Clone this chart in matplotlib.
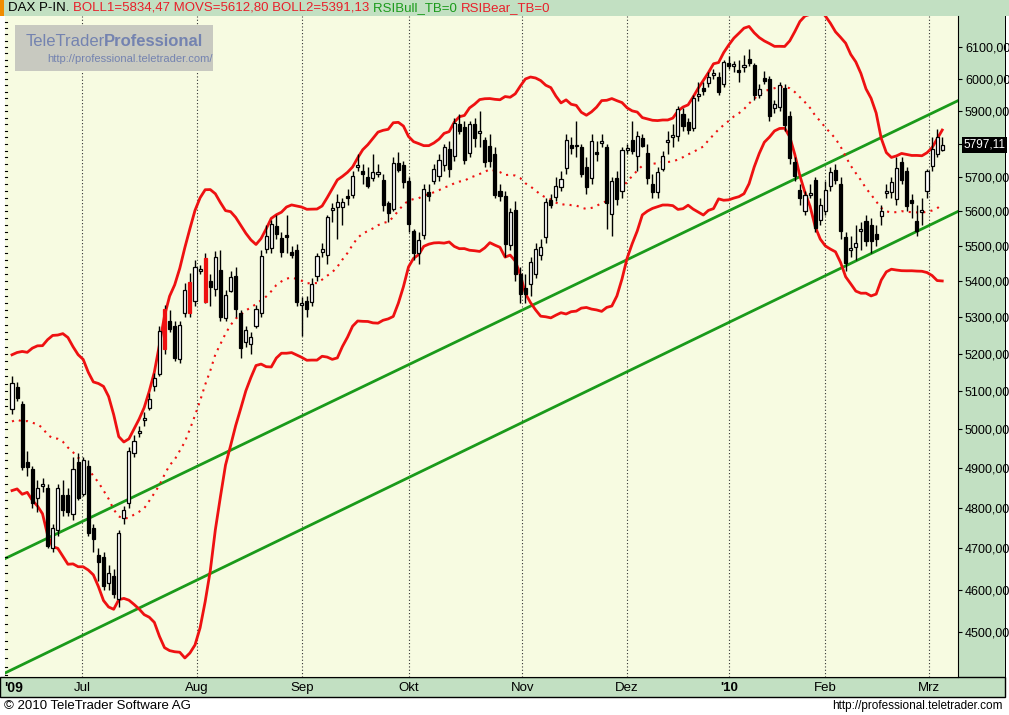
import numpy as np
import matplotlib
matplotlib.use("Agg")
import matplotlib.pyplot as plt
from matplotlib.patches import Rectangle
import matplotlib.ticker as mt

# ---------------- data ----------------
prior_closes = [4980, 5010, 4880, 4900, 4930, 5050, 5070, 4920, 4880, 4950,
                5090, 5140, 5110, 5050, 5160, 5100, 4990, 5020, 5060]
opens = [5054,5112,5067,4915,4899,4826,4856,4851,4700,4746,4833,4833,4786,4915,4836,4907,4751,4683,4678,4615,
         4634,4579,4774,4813,4938,4990,5024,5057,5115,5146,5213,5291,5275,5186,5311,5311,5346,5428,5343,5401,
         5379,5431,5297,5373,5415,5311,5232,5226,5277,5311,5492,5495,5558,5524,5532,5484,5490,5335,5346,5343,
         5415,5484,5476,5603,5612,5612,5646,5649,5731,5719,5702,5699,5711,5693,5624,5606,5743,5737,5690,5544,
         5481,5532,5658,5690,5705,5737,5784,5764,5859,5850,5773,5862,5832,5811,5793,5770,5661,5646,5504,5603,
         5420,5382,5393,5420,5476,5526,5632,5643,5673,5728,5796,5793,5790,5731,5699,5776,5802,5790,5592,5699,
         5661,5781,5811,5764,5817,5773,5681,5658,5725,5805,5820,5823,5890,5868,5847,5947,5972,5987,6012,6006,
         5984,6049,6040,6028,6037,6062,6043,5950,6003,6000,5908,5914,5972,5884,5746,5664,5600,5649,5693,5575,
         5600,5676,5722,5679,5526,5490,5498,5544,5572,5560,5535,5586,5655,5658,5635,5746,5719,5632,5572,5598,
         5661,5734,5770,5781]
closes = [5123,5083,4904,4904,4813,4851,4861,4707,4749,4851,4794,4791,4899,4826,4920,4737,4724,4666,4610,4641,
          4591,4737,4796,4943,4971,4995,5030,5080,5136,5262,5322,5267,5189,5280,5376,5398,5440,5434,5465,5384,
          5470,5300,5362,5412,5324,5216,5264,5245,5324,5473,5529,5563,5535,5484,5527,5476,5343,5340,5322,5393,
          5473,5492,5583,5609,5629,5629,5638,5705,5737,5710,5676,5716,5716,5618,5595,5743,5722,5687,5563,5481,
          5518,5667,5646,5725,5752,5790,5725,5865,5838,5752,5859,5817,5838,5746,5749,5649,5646,5507,5598,5420,
          5365,5365,5456,5492,5498,5629,5620,5676,5696,5811,5787,5798,5710,5673,5808,5770,5808,5626,5690,5635,
          5781,5787,5778,5823,5793,5699,5658,5716,5764,5811,5826,5905,5853,5841,5941,5953,5963,6006,6018,5960,
          6053,6040,6046,6022,6043,6049,5950,5969,5994,5884,5923,5981,5856,5758,5705,5638,5649,5655,5552,5618,
          5664,5716,5693,5544,5451,5495,5510,5549,5515,5515,5521,5600,5661,5687,5728,5693,5615,5626,5544,5603,
          5719,5784,5820,5797.11]
highs = [5140,5125,5075,4945,4905,4870,4875,4860,4760,4860,4870,4850,4930,4940,4930,4920,4760,4700,4690,4660,
         4650,4745,4805,4955,4985,5010,5045,5095,5150,5275,5335,5320,5290,5290,5395,5425,5460,5445,5480,5420,
         5485,5490,5375,5430,5440,5320,5275,5260,5335,5490,5560,5575,5590,5540,5590,5500,5505,5355,5360,5410,
         5480,5510,5590,5625,5650,5640,5665,5720,5770,5740,5730,5770,5740,5710,5630,5760,5775,5750,5700,5550,
         5540,5680,5680,5740,5770,5800,5810,5880,5890,5870,5870,5880,5900,5820,5830,5790,5680,5660,5610,5630,
         5440,5420,5470,5510,5520,5640,5650,5700,5720,5830,5820,5870,5800,5760,5830,5810,5830,5800,5700,5720,
         5790,5800,5870,5840,5830,5800,5710,5730,5780,5840,5860,5915,5910,5880,5950,5990,5990,6020,6030,6020,
         6060,6070,6055,6060,6075,6095,6050,5985,6025,6010,5935,5990,5985,5900,5760,5680,5660,5680,5700,5640,
         5690,5730,5740,5700,5540,5530,5560,5570,5590,5580,5560,5620,5680,5700,5760,5760,5730,5650,5620,5640,
         5725,5820,5845,5820]
lows = [5040,5075,4895,4880,4800,4790,4840,4700,4690,4730,4780,4780,4770,4820,4830,4730,4690,4620,4600,4600,
        4580,4560,4760,4800,4930,4980,5010,5050,5100,5140,5200,5260,5180,5175,5300,5300,5330,5420,5340,5330,
        5360,5290,5290,5370,5300,5190,5220,5200,5270,5300,5480,5480,5520,5470,5480,5465,5330,5250,5300,5330,
        5400,5470,5450,5570,5520,5560,5620,5640,5720,5680,5670,5690,5700,5600,5570,5600,5715,5670,5540,5460,
        5450,5520,5630,5680,5690,5720,5700,5750,5830,5740,5760,5790,5790,5730,5730,5640,5630,5470,5490,5400,
        5340,5340,5360,5410,5460,5510,5610,5630,5660,5710,5770,5760,5700,5650,5680,5750,5790,5550,5530,5620,
        5640,5770,5770,5720,5790,5680,5640,5640,5720,5770,5790,5810,5840,5830,5840,5930,5950,5975,6000,5950,
        5975,6030,6020,5990,6020,6040,5935,5940,5985,5870,5895,5900,5840,5740,5690,5620,5590,5640,5540,5560,
        5590,5660,5680,5520,5430,5470,5460,5490,5500,5480,5500,5560,5640,5640,5620,5680,5600,5580,5530,5560,
        5640,5720,5760,5780]
red_candles = [30, 35, 38]  # zero-based indices of red-filled candles

month_labels = ["'09", "Jul", "Aug", "Sep", "Okt", "Nov", "Dez", "'10", "Feb", "Mrz"]
month_pos = [None, 13.8, 36.4, 57.1, 78.0, 100.4, 121.0, 141.0, 160.0, 180.3]

trend_x = [-1.4, 186.1]
trend_upper = [4675, 5932]
trend_lower = [4405, 5600]

y_ticks = list(range(4500, 6101, 100))
last_price = 5797.11

# ---------------- bands ----------------
allc = np.array(prior_closes + closes, dtype=float)
n = len(closes)
mid, up, lo = [], [], []
for i in range(n):
    w = allc[i:i + 20]
    m = w.mean(); s = w.std(ddof=1)
    mid.append(m); up.append(m + 2 * s); lo.append(m - 2 * s)

# ---------------- figure ----------------
W, H = 1009, 715
fig = plt.figure(figsize=(W / 100, H / 100), dpi=100)
fig.patch.set_facecolor("white")
green = "#c2e0c2"
FONT = "Liberation Sans"
def rect(x0, y0, w, h, **kw):
    fig.add_artist(Rectangle((x0 / W, 1 - (y0 + h) / H), w / W, h / H, transform=fig.transFigure, **kw))

rect(0, 0, W, 16, fc=green, ec="none", zorder=-5)
rect(0, 0, 4, 16, fc="#f08c00", ec="none", zorder=-4)
rect(958, 16, 47, 661, fc=green, ec="none", zorder=-5)
rect(0, 677, 1005, 20, fc=green, ec="black", lw=1, zorder=-5)
rect(1005, 16, 1, 681, fc="black", ec="none", zorder=-4)

ax = fig.add_axes([5 / W, 1 - 677 / H, 953 / W, 661 / H])
ax.set_facecolor("#f7fbe1")
ax.set_yscale("log")
ax.set_ylim(4396, 6199)
ax.set_xlim(-1.38, 186.1)

x = np.arange(n)
for p in month_pos[1:]:
    ax.axvline(p, color="#333333", lw=0.8, ls=(0, (1, 2)))

ax.plot(trend_x, trend_upper, color="#1a9a1a", lw=2, zorder=2)
ax.plot(trend_x, trend_lower, color="#1a9a1a", lw=2, zorder=2)
ax.plot(x, up, color="#ee1111", lw=2, zorder=2)
ax.plot(x, lo, color="#ee1111", lw=2, zorder=2)
ax.plot(x, mid, color="#ee1111", lw=1.5, ls=(0, (1, 2.5)), zorder=2)

o = np.array(opens); c = np.array(closes); h = np.array(highs); l = np.array(lows)
ax.vlines(x, l, h, color="black", lw=1, zorder=3)
for i in range(n):
    b = min(o[i], c[i]); t = max(o[i], c[i])
    if t - b < 3:
        t = b + 3
    if i in red_candles:
        fc, ec = "#ee1111", "#ee1111"
    elif c[i] >= o[i]:
        fc, ec = "white", "black"
    else:
        fc, ec = "black", "black"
    ax.add_patch(Rectangle((x[i] - 0.3, b), 0.6, t - b, fc=fc, ec=ec, lw=0.9, zorder=4))

ax.yaxis.tick_right()
ax.set_yticks(y_ticks)
ax.set_yticklabels(["" if v == 5800 else f"{v},00" for v in y_ticks], fontsize=9, family=FONT)
ax.yaxis.set_minor_locator(mt.NullLocator())
ax.tick_params(axis="y", which="major", direction="out", length=3, pad=2, right=True, left=False)
ax.set_xticks([])
for s in ["top", "left"]:
    ax.spines[s].set_visible(False)

# left small ticks
for v in range(4400, 6200, 20):
    ax.plot([-1.38, -0.9], [v, v], color="black", lw=0.8, clip_on=False, zorder=5)

# current price box
ax.text(1.006, last_price, f"{last_price:.2f}".replace(".", ","), transform=ax.get_yaxis_transform(),
        fontsize=8.5, color="white", family=FONT,
        va="center", ha="left", bbox=dict(fc="black", ec="none", pad=1.2), zorder=6)

# month labels
fig.text(4 / W, 1 - 688 / H, month_labels[0], fontsize=10, fontweight="bold", va="center", ha="left", family=FONT)
for lab, p in zip(month_labels[1:], month_pos[1:]):
    xp = (5 + (p + 1.38) / (186.1 + 1.38) * 953) / W
    fig.text(xp, 1 - 688 / H, lab, fontsize=9.5, va="center", ha="center", family=FONT,
             fontweight="bold" if lab == "'10" else "normal")

# header (chained texts)
t0 = fig.text(8 / W, 1 - 8 / H, "DAX P-IN. ", fontsize=9.5, va="center", ha="left", color="black", family=FONT)
parts = [("BOLL1=5834,47 MOVS=5612,80 BOLL2=5391,13 ", "#e8202a"),
         ("RSIBull_TB=0 ", "#1a9a1a"), ("RSIBear_TB=0", "#e8202a")]
prev = t0
for txt, col in parts:
    prev = ax.annotate(txt, xy=(1, 0.5), xycoords=prev, fontsize=9.5, color=col, family=FONT,
                       va="center", ha="left", annotation_clip=False)

# watermark
rect(15, 25, 198, 46, fc="#c8c9c0", ec="none", zorder=10)
fig.text(26 / W, 1 - 41 / H, "TeleTrader", fontsize=12, color="#7483b0", va="center", ha="left", zorder=11, family=FONT)
fig.text(104 / W, 1 - 41 / H, "Professional", fontsize=12, color="#7483b0", fontweight="bold",
         va="center", ha="left", zorder=11, family=FONT)
fig.text(47 / W, 1 - 59 / H, "http://professional.teletrader.com/", fontsize=8, color="#7483b0", va="center", ha="left", zorder=11, family=FONT)

# footer
fig.text(4 / W, 1 - 706 / H, "© 2010 TeleTrader Software AG", fontsize=9.5, va="center", ha="left", family=FONT)
fig.text(1003 / W, 1 - 706 / H, "http://professional.teletrader.com", fontsize=8.5, va="center", ha="right", family=FONT)

fig.savefig("out.png", dpi=100)
